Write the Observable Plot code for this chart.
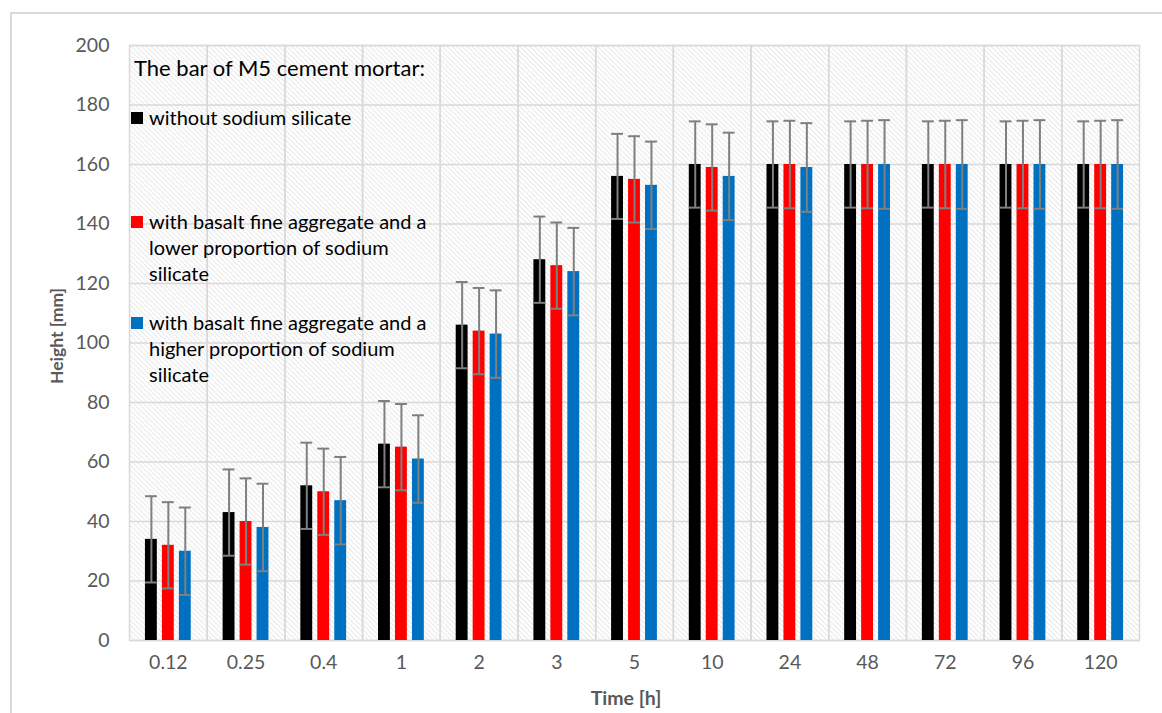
<!DOCTYPE html>
<html>
<head>
<meta charset="utf-8">
<script src="https://cdn.jsdelivr.net/npm/d3@7"></script>
<script src="https://cdn.jsdelivr.net/npm/@observablehq/plot@0.6"></script>
<style>
  html, body { margin: 0; padding: 0; background: #fff; overflow: hidden; }
  #wrap { position: relative; width: 1162px; height: 713px; font-family: Lato, "Open Sans", sans-serif; }
  #wrap svg { position: absolute; left: 0; top: 0; }
  .border { position: absolute; left: 10px; top: 12px; width: 1200px; height: 800px; border: 2px solid #d9d9d9; box-sizing: border-box; pointer-events: none; z-index: 5; }
  .ytitle { position: absolute; left: 56px; top: 336px; transform: translate(-50%, -50%) rotate(-90deg); font-weight: bold; font-size: 17.5px; color: #595959; white-space: nowrap; z-index: 3; }
  .xtitle { position: absolute; left: 626px; top: 697px; transform: translate(-50%, -50%); font-weight: bold; font-size: 19.5px; color: #595959; white-space: nowrap; z-index: 3; }
  .legtitle { position: absolute; left: 134px; top: 67px; transform: translateY(-50%); font-size: 22px; color: #000; white-space: nowrap; z-index: 3; }
  .item { position: absolute; left: 131px; font-size: 20px; line-height: 26px; color: #000; z-index: 3; }
  .item .sw { position: absolute; left: 0; top: 8px; width: 12px; height: 12px; }
  .item .tx { margin-left: 18px; white-space: nowrap; }
</style>
</head>
<body>
<div id="wrap"></div>
<script>
const times = ["0.12", "0.25", "0.4", "1", "2", "3", "5", "10", "24", "48", "72", "96", "120"];
const seriesNames = ["without sodium silicate",
  "with basalt fine aggregate and a lower proportion of sodium silicate",
  "with basalt fine aggregate and a higher proportion of sodium silicate"];
const seriesColors = ["#000000", "#ff0000", "#0070c0"];
const withoutSilicate = [34, 43, 52, 66, 106, 128, 156, 160, 160, 160, 160, 160, 160];
const lowerSilicate   = [32, 40, 50, 65, 104, 126, 155, 159, 160, 160, 160, 160, 160];
const higherSilicate  = [30, 38, 47, 61, 103, 124, 153, 156, 159, 160, 160, 160, 160];
const errWithout = [14.5, 14.5, 14.5, 14.5, 14.5, 14.5, 14.3, 14.5, 14.5, 14.5, 14.5, 14.5, 14.5];
const errLower   = [14.5, 14.5, 14.5, 14.5, 14.5, 14.5, 14.5, 14.5, 14.7, 14.7, 14.7, 14.7, 14.7];
const errHigher  = [14.7, 14.7, 14.7, 14.7, 14.7, 14.7, 14.7, 14.7, 14.9, 14.9, 14.9, 14.9, 14.9];
const yTicks = [0, 20, 40, 60, 80, 100, 120, 140, 160, 180, 200];

const valueSets = [withoutSilicate, lowerSilicate, higherSilicate];
const errSets = [errWithout, errLower, errHigher];
const rows = [];
times.forEach((t, i) => {
  seriesNames.forEach((s, j) => {
    rows.push({time: t, series: s, value: valueSets[j][i], err: errSets[j][i]});
  });
});

const plot = Plot.plot({
  width: 1162,
  height: 713,
  marginLeft: 129,
  marginRight: 23,
  marginTop: 45,
  marginBottom: 73,
  style: {background: "transparent", fontFamily: "Lato, 'Open Sans', sans-serif"},
  fx: {domain: times, padding: 0, round: false, label: null},
  x: {domain: seriesNames, paddingInner: 0.3, paddingOuter: 0.94, round: false, axis: null},
  y: {domain: [0, 200], label: null},
  color: {domain: seriesNames, range: seriesColors},
  marks: [
    Plot.frame({fill: "url(#hatch)", stroke: "none"}),
    Plot.gridY(yTicks, {stroke: "#d9d9d9", strokeOpacity: 1, strokeWidth: 1.5}),
    Plot.frame({stroke: "#d9d9d9", strokeWidth: 1.5}),
    Plot.barY(rows, {fx: "time", x: "series", y: "value", fill: "series"}),
    Plot.ruleX(rows, {fx: "time", x: "series", y1: d => d.value - d.err, y2: d => d.value + d.err, stroke: "#7f7f7f", strokeWidth: 2}),
    Plot.tickY(rows, {fx: "time", x: "series", y: d => d.value + d.err, stroke: "#7f7f7f", strokeWidth: 2}),
    Plot.tickY(rows, {fx: "time", x: "series", y: d => d.value - d.err, stroke: "#7f7f7f", strokeWidth: 2}),
    Plot.axisY(yTicks, {tickSize: 0, tickPadding: 20, fontSize: 19.5, color: "#595959", label: null}),
    Plot.axisFx({anchor: "bottom", tickSize: 0, tickPadding: 15, fontSize: 19.5, color: "#595959", label: null})
  ]
});

const svg = d3.select(plot);
const defs = svg.insert("defs", ":first-child");
const pat = defs.append("pattern").attr("id", "hatch").attr("patternUnits", "userSpaceOnUse")
  .attr("width", 5).attr("height", 5);
pat.append("rect").attr("width", 5).attr("height", 5).attr("fill", "#ffffff");
pat.append("path").attr("d", "M-1,-1 L6,6 M-1,4 L1,6 M4,-1 L6,1")
  .attr("stroke", "#dcdcdc").attr("stroke-width", 1);

const wrap = document.getElementById("wrap");
wrap.appendChild(plot);

function addDiv(cls, html, top) {
  const d = document.createElement("div");
  d.className = cls;
  d.innerHTML = html;
  if (top !== undefined) d.style.top = top + "px";
  wrap.appendChild(d);
}
addDiv("border", "");
addDiv("ytitle", "Height [mm]");
addDiv("xtitle", "Time [h]");
addDiv("legtitle", "The bar of M5 cement mortar:");
const legendLines = [
  ["without sodium silicate"],
  ["with basalt fine aggregate and a", "lower proportion of sodium", "silicate"],
  ["with basalt fine aggregate and a", "higher proportion of sodium", "silicate"]
];
const legendTops = [104, 208, 309];
legendLines.forEach((lines, j) => {
  addDiv("item", `<div class="sw" style="background:${seriesColors[j]}"></div><div class="tx">${lines.join("<br>")}</div>`, legendTops[j]);
});
</script>
</body>
</html>
